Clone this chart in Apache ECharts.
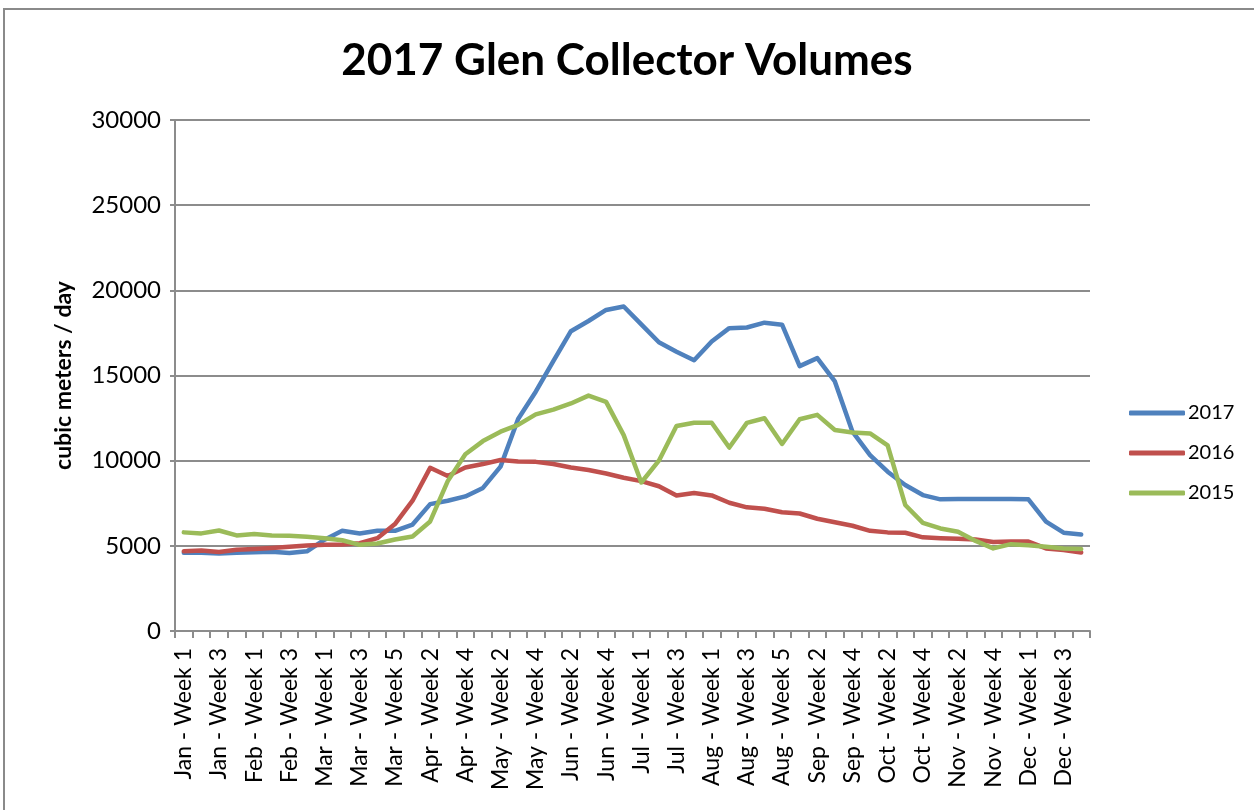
<!DOCTYPE html>
<html>
<head>
<meta charset="utf-8">
<script src="https://cdn.jsdelivr.net/npm/echarts@6/dist/echarts.min.js"></script>
<style>
  html, body { margin: 0; padding: 0; background: #ffffff; }
  #chart { width: 1254px; height: 810px; }
</style>
</head>
<body>
<div id="chart"></div>
<script>
// Weekly categories, Jan through Dec
const categories = [
  'Jan - Week 1', 'Jan - Week 2', 'Jan - Week 3', 'Jan - Week 4',
  'Feb - Week 1', 'Feb - Week 2', 'Feb - Week 3', 'Feb - Week 4',
  'Mar - Week 1', 'Mar - Week 2', 'Mar - Week 3', 'Mar - Week 4', 'Mar - Week 5',
  'Apr - Week 1', 'Apr - Week 2', 'Apr - Week 3', 'Apr - Week 4',
  'May - Week 1', 'May - Week 2', 'May - Week 3', 'May - Week 4',
  'Jun - Week 1', 'Jun - Week 2', 'Jun - Week 3', 'Jun - Week 4', 'Jun - Week 5',
  'Jul - Week 1', 'Jul - Week 2', 'Jul - Week 3', 'Jul - Week 4',
  'Aug - Week 1', 'Aug - Week 2', 'Aug - Week 3', 'Aug - Week 4', 'Aug - Week 5',
  'Sep - Week 1', 'Sep - Week 2', 'Sep - Week 3', 'Sep - Week 4',
  'Oct - Week 1', 'Oct - Week 2', 'Oct - Week 3', 'Oct - Week 4',
  'Nov - Week 1', 'Nov - Week 2', 'Nov - Week 3', 'Nov - Week 4', 'Nov - Week 5',
  'Dec - Week 1', 'Dec - Week 2', 'Dec - Week 3', 'Dec - Week 4'
];

// Collector volumes, cubic meters / day
const volumes2017 = [
  4600, 4600, 4550, 4600, 4620, 4650, 4580, 4680,
  5360, 5880, 5730, 5880, 5880,
  6250, 7450, 7650, 7900,
  8400, 9650, 12450, 14050,
  15850, 17600, 18200, 18850, 19050,
  18000, 16950, 16400, 15900,
  17000, 17780, 17820, 18100, 17980,
  15550, 16020, 14650, 11700,
  10330, 9350, 8570, 7980,
  7730, 7750, 7750, 7750, 7750,
  7730, 6420, 5770, 5670
];

const volumes2016 = [
  4680, 4720, 4640, 4770, 4810, 4870, 4950, 5020,
  5060, 5080, 5150, 5450, 6280,
  7650, 9580, 9100, 9600,
  9800, 10040, 9950, 9930,
  9800, 9600, 9450, 9250, 9000,
  8800, 8500, 7950, 8100,
  7960, 7530, 7260, 7180, 6970,
  6900, 6590, 6380, 6180,
  5880, 5790, 5770, 5500,
  5450, 5410, 5370, 5220, 5250,
  5250, 4850, 4750, 4610
];

const volumes2015 = [
  5790, 5730, 5900, 5610, 5690, 5610, 5590, 5530,
  5450, 5330, 5060, 5140, 5370,
  5550, 6430, 8800, 10380,
  11150, 11700, 12100, 12720,
  13000, 13360, 13820, 13450, 11500,
  8720, 10000, 12040, 12230,
  12230, 10770, 12220, 12490, 10980,
  12430, 12690, 11800, 11650,
  11600, 10900, 7400, 6350,
  6020, 5830, 5290, 4850, 5100,
  5040, 4940, 4850, 4810
];

const seriesNames = ['2017', '2016', '2015'];
const seriesColors = ['#4F81BD', '#C0504D', '#9BBB59'];
const seriesValues = [volumes2017, volumes2016, volumes2015];

const FONT = 'Lato';
const AXIS_GRAY = '#8c8c8c';

const chart = echarts.init(document.getElementById('chart'), null, { renderer: 'canvas' });

chart.setOption({
  animation: false,
  backgroundColor: '#ffffff',
  color: seriesColors,
  graphic: [{
    type: 'rect',
    shape: { x: 4, y: 9, width: 1270, height: 830 },
    style: { fill: 'none', stroke: '#8a8a8a', lineWidth: 2 },
    silent: true
  }],
  title: {
    text: '2017 Glen Collector Volumes',
    left: 'center',
    top: 39,
    padding: 0,
    textStyle: { fontFamily: FONT, fontWeight: 'bold', fontSize: 44, color: '#000000' }
  },
  legend: {
    orient: 'vertical',
    left: 1129,
    top: 403,
    padding: 0,
    itemWidth: 56,
    itemHeight: 5,
    itemGap: 20,
    icon: 'roundRect',
    textStyle: { fontFamily: FONT, fontSize: 20, color: '#000000', padding: [0, 0, 0, -2] },
    data: seriesNames
  },
  grid: { left: 175, top: 120, width: 915, height: 511, containLabel: false },
  xAxis: {
    type: 'category',
    data: categories,
    boundaryGap: true,
    axisLine: { show: true, lineStyle: { color: AXIS_GRAY, width: 2 } },
    axisTick: { show: true, interval: 0, length: 7, lineStyle: { color: AXIS_GRAY, width: 2 } },
    axisLabel: {
      interval: 1,
      rotate: 90,
      margin: 17,
      fontFamily: FONT,
      fontSize: 23,
      color: '#000000'
    },
    splitLine: { show: false }
  },
  yAxis: {
    type: 'value',
    min: 0,
    max: 30000,
    interval: 5000,
    name: 'cubic meters / day',
    nameLocation: 'middle',
    nameGap: 100,
    nameTextStyle: { fontFamily: FONT, fontWeight: 'bold', fontSize: 23, color: '#000000' },
    axisLine: { show: true, lineStyle: { color: AXIS_GRAY, width: 2 } },
    axisTick: { show: true, length: 5, lineStyle: { color: AXIS_GRAY, width: 2 } },
    axisLabel: {
      margin: 14,
      fontFamily: FONT,
      fontSize: 24,
      color: '#000000',
      formatter: (v) => String(v)
    },
    splitLine: { show: true, lineStyle: { color: AXIS_GRAY, width: 2 } }
  },
  series: seriesNames.map((name, i) => ({
    name: name,
    type: 'line',
    data: seriesValues[i],
    symbol: 'none',
    smooth: false,
    lineStyle: { width: 4.5, color: seriesColors[i], cap: 'round', join: 'round' },
    itemStyle: { color: seriesColors[i] },
    emphasis: { disabled: true }
  }))
});
</script>
</body>
</html>
